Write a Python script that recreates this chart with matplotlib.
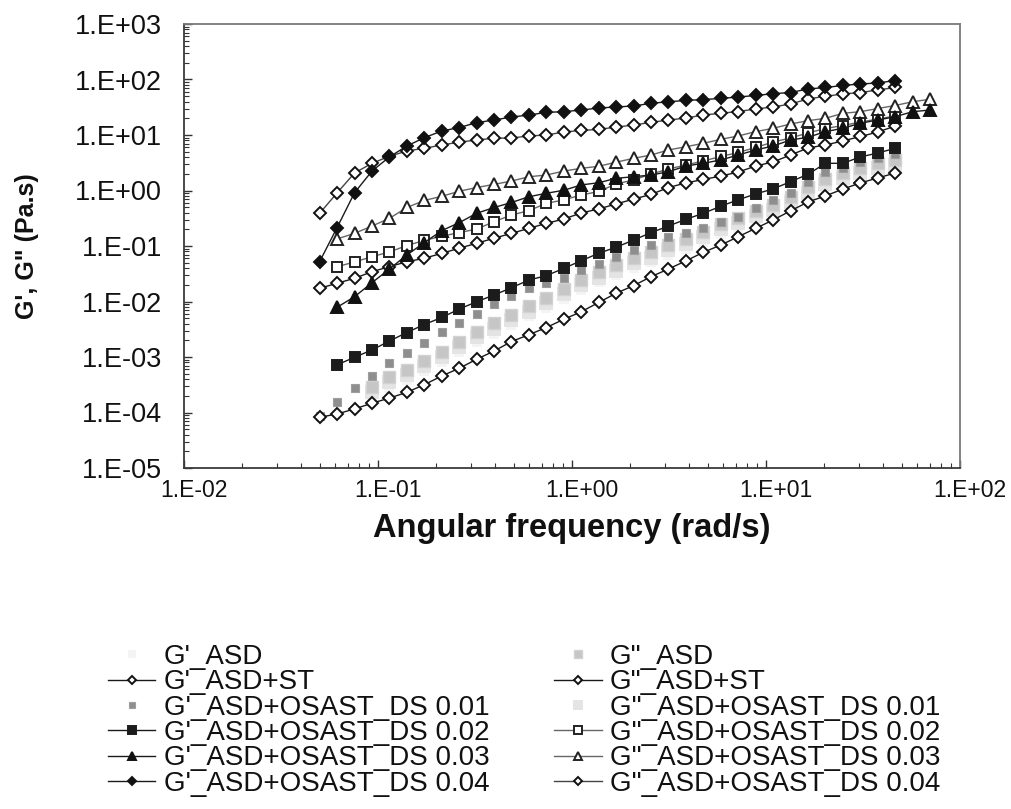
import numpy as np
import matplotlib
matplotlib.use("Agg")
import matplotlib.pyplot as plt
import matplotlib.transforms as mtransforms
from matplotlib.ticker import LogLocator, FuncFormatter, NullFormatter

plt.rcParams['font.family'] = ['Liberation Sans', 'DejaVu Sans']

# Angular frequency sweep (rad/s)
freq = [0.0500, 0.0615, 0.0757, 0.0931, 0.1145, 0.1408, 0.1732, 0.2130, 0.2620,
        0.3223, 0.3964, 0.4876, 0.5997, 0.7377, 0.9073, 1.116, 1.373, 1.688,
        2.077, 2.554, 3.142, 3.864, 4.753, 5.846, 7.191, 8.845, 10.88, 13.38,
        16.46, 20.25, 24.90, 30.63, 37.68, 46.34, 57.00, 70.11]

# Storage modulus G'
g1_asd = [1.9e-4, 2.8e-4, 3.8e-4, 5.6e-4, 8.1e-4, 1.23e-3, 1.83e-3, 2.6e-3, 3.7e-3,
          5.4e-3, 7.5e-3, 1.09e-2, 1.59e-2, 2.2e-2, 2.96e-2, 3.95e-2, 5.1e-2, 6.8e-2,
          8.7e-2, 0.116, 0.162, 0.208, 0.278, 0.356, 0.50, 0.75, 1.05, 1.35, 1.65,
          2.03, 2.31]
g1_st = [8.2e-5, 9.4e-5, 1.16e-4, 1.47e-4, 1.82e-4, 2.31e-4, 3.17e-4, 4.55e-4, 6.25e-4,
         9.1e-4, 1.28e-3, 1.9e-3, 2.52e-3, 3.4e-3, 4.78e-3, 6.55e-3, 9.6e-3, 1.41e-2,
         1.93e-2, 2.8e-2, 3.85e-2, 5.4e-2, 7.7e-2, 0.104, 0.147, 0.208, 0.294, 0.43,
         0.62, 0.80, 1.06, 1.37, 1.68, 2.07]
g1_ds01 = [8.65e-5, 1.57e-4, 2.73e-4, 4.55e-4, 7.69e-4, 1.17e-3, 1.81e-3, 2.79e-3, 4.05e-3,
           5.96e-3, 9.0e-3, 1.26e-2, 1.75e-2, 2.15e-2, 2.65e-2, 3.70e-2, 4.74e-2, 6.34e-2,
           8.47e-2, 0.104, 0.145, 0.171, 0.211, 0.270, 0.333, 0.484, 0.675, 0.90,
           1.42, 2.15, 2.54, 3.27, 3.86, 4.55]
g1_ds02 = [7.2e-4, 9.9e-4, 1.34e-3, 1.94e-3, 2.76e-3, 3.85e-3, 5.15e-3, 7.3e-3, 9.9e-3,
           1.31e-2, 1.77e-2, 2.44e-2, 2.92e-2, 3.96e-2, 5.43e-2, 7.4e-2, 9.5e-2, 0.128,
           0.174, 0.229, 0.303, 0.388, 0.521, 0.682, 0.865, 1.07, 1.44, 1.96, 3.09,
           3.09, 4.02, 4.74, 5.75]
g1_ds03 = [0.00786, 0.0122, 0.0218, 0.0385, 0.0689, 0.115, 0.189, 0.263, 0.388, 0.494,
           0.608, 0.773, 0.891, 1.01, 1.26, 1.38, 1.66, 1.77, 1.90, 2.18, 2.76, 3.09,
           3.55, 4.36, 5.37, 6.34, 8.13, 9.10, 11.5, 13.2, 16.3, 18.6, 21.4, 26.3, 28.2]
g1_ds04 = [0.0521, 0.214, 0.912, 2.24, 4.02, 6.34, 8.93, 11.8, 13.6, 16.7, 18.6, 21.1,
           22.9, 25.6, 26.3, 28.2, 30.6, 32.0, 33.3, 37.2, 39.8, 41.9, 43.6, 45.5, 48.4,
           51.5, 55.5, 58.3, 67.5, 71.8, 78.0, 83.0, 86.5, 95.9]

# Loss modulus G''
g2_asd = [2.92e-4, 4.37e-4, 5.83e-4, 8.57e-4, 1.24e-3, 1.89e-3, 2.82e-3, 4.05e-3, 5.71e-3,
          8.3e-3, 1.16e-2, 1.68e-2, 2.44e-2, 3.40e-2, 4.55e-2, 6.08e-2, 7.80e-2, 0.104,
          0.134, 0.179, 0.249, 0.320, 0.428, 0.548, 0.76, 1.15, 1.61, 2.07, 2.54, 3.13,
          3.55]
g2_st = [0.0173, 0.0213, 0.0262, 0.0344, 0.0424, 0.0521, 0.060, 0.0738, 0.0910, 0.112,
         0.138, 0.169, 0.208, 0.256, 0.306, 0.394, 0.465, 0.572, 0.70, 0.85, 1.13, 1.37,
         1.58, 1.82, 2.15, 2.76, 3.27, 4.36, 5.83, 6.61, 7.80, 9.40, 11.3, 14.5]
g2_ds01 = [2.3e-4, 3.5e-4, 4.7e-4, 6.9e-4, 9.9e-4, 1.5e-3, 2.3e-3, 3.2e-3, 4.6e-3, 6.6e-3,
           9.3e-3, 1.35e-2, 1.95e-2, 2.7e-2, 3.6e-2, 4.9e-2, 6.2e-2, 8.3e-2, 0.107, 0.143,
           0.199, 0.256, 0.342, 0.438, 0.61, 0.92, 1.29, 1.66, 2.03, 2.5, 2.84]
g2_ds02 = [0.0424, 0.0515, 0.0642, 0.078, 0.102, 0.126, 0.150, 0.174, 0.202, 0.274, 0.362,
           0.433, 0.588, 0.675, 0.83, 0.96, 1.31, 1.55, 1.98, 2.44, 2.88, 3.40, 4.10, 4.84,
           5.96, 7.48, 8.83, 10.9, 13.1, 14.8, 17.1, 19.4, 22.0]
g2_ds03 = [0.134, 0.169, 0.229, 0.315, 0.494, 0.661, 0.786, 0.968, 1.13, 1.29, 1.48, 1.77,
           1.90, 2.24, 2.51, 2.73, 3.24, 3.80, 4.36, 5.37, 6.15, 7.08, 8.37, 9.60, 11.5,
           13.2, 15.8, 18.1, 20.0, 24.6, 26.3, 30.0, 34.0, 39.8, 44.0]
g2_ds04 = [0.388, 0.902, 2.07, 3.09, 4.13, 5.15, 5.76, 6.61, 7.42, 8.13, 8.73, 8.84, 9.60,
           10.0, 11.3, 12.1, 12.6, 13.9, 15.1, 16.9, 18.6, 20.2, 22.9, 24.6, 26.5, 29.4,
           32.0, 36.2, 44.6, 49.8, 54.8, 58.3, 64.7, 71.8]

W, H = 1012, 809
fig = plt.figure(figsize=(W / 100, H / 100), dpi=100)
fig.patch.set_facecolor('white')
ax = fig.add_axes([184 / W, 1 - 468 / H, (960 - 184) / W, (468 - 24) / H])
ax.set_xscale('log')
ax.set_yscale('log')
ax.set_xlim(1e-2, 1e2)
ax.set_ylim(1e-5, 1e3)

f = np.array(freq)


def series(y, start, label, marker, ms, mfc, mec, ls='-', lc='#1a1a1a', lw=1.0,
           mew=1.4, z=3):
    xs = f[start:start + len(y)]
    line, = ax.plot(xs, y, linestyle=ls, color=lc, lw=lw, marker=marker, ms=ms,
                    mfc=mfc, mec=mec, mew=mew, label=label, zorder=z)
    return line


h_g1_asd = series(g1_asd, 3, "G'_ASD", 's', 6, '#f4f4f4', '#f4f4f4', ls='none', z=1)
h_g2_01 = series(g2_ds01, 3, 'G"_ASD+OSAST_DS 0.01', 's', 8, '#e4e4e4', '#e4e4e4',
                 ls='none', z=1)
h_g2_asd = series(g2_asd, 3, 'G"_ASD', 's', 8.5, '#c6c6c6', '#d2d2d2', ls='none',
                  mew=1.0, z=2)
h_g1_01 = series(g1_ds01, 0, "G'_ASD+OSAST_DS 0.01", 's', 5.5, '#8e8e8e', '#9e9e9e',
                 ls='none', mew=0.8, z=2)
h_g1_st = series(g1_st, 0, "G'_ASD+ST", 'D', 6, 'white', '#111111', z=3)
h_g1_02 = series(g1_ds02, 1, "G'_ASD+OSAST_DS 0.02", 's', 7, '#1c1c1c', '#1c1c1c', z=4)
h_g2_st = series(g2_st, 0, 'G"_ASD+ST', 'D', 6, 'white', '#111111', z=3)
h_g2_02 = series(g2_ds02, 1, 'G"_ASD+OSAST_DS 0.02', 's', 7, 'white', '#222222',
                 lc='#666666', z=3)
h_g1_03 = series(g1_ds03, 1, "G'_ASD+OSAST_DS 0.03", '^', 8, '#111111', '#111111', z=4)
h_g2_03 = series(g2_ds03, 1, 'G"_ASD+OSAST_DS 0.03', '^', 8, 'white', '#222222',
                 lc='#666666', z=3)
h_g2_04 = series(g2_ds04, 0, 'G"_ASD+OSAST_DS 0.04', 'D', 6, 'white', '#111111',
                 lc='#444444', z=3)
h_g1_04 = series(g1_ds04, 0, "G'_ASD+OSAST_DS 0.04", 'D', 6, '#111111', '#111111', z=4)

# Axes frame and ticks
for sp in ax.spines.values():
    sp.set_color('#3a3a3a')
    sp.set_linewidth(1.3)
ax.spines['top'].set_color('#7a7a7a')
ax.spines['right'].set_color('#7a7a7a')

fmt = FuncFormatter(lambda v, p: "1.E{:+03d}".format(int(round(np.log10(v)))))
for axis in (ax.xaxis, ax.yaxis):
    axis.set_major_locator(LogLocator(base=10, numticks=20))
    axis.set_minor_locator(LogLocator(base=10, subs=np.arange(2, 10), numticks=20))
    axis.set_major_formatter(fmt)
    axis.set_minor_formatter(NullFormatter())
ax.tick_params(which='both', direction='in', top=False, right=False, color='#333333')
ax.tick_params(which='major', length=6, width=1.0)
ax.tick_params(which='minor', length=3.5, width=0.8)
ax.tick_params(axis='y', which='major', labelsize=19.5, pad=16, labelcolor='#111111')
ax.tick_params(axis='x', which='major', labelsize=16.5, pad=8, labelcolor='#111111')

ax.set_xlabel('Angular frequency (rad/s)', fontsize=23.5, fontweight='bold',
              color='#111111')
ax.xaxis.set_label_coords(0.5, -0.102)
ax.set_ylabel('G\', G" (Pa.s)', fontsize=18, fontweight='bold', color='#111111')
ax.yaxis.set_label_coords(-0.187, 0.5)

handles = [h_g1_asd, h_g1_st, h_g1_01, h_g1_02, h_g1_03, h_g1_04,
           h_g2_asd, h_g2_st, h_g2_01, h_g2_02, h_g2_03, h_g2_04]
labels = [h.get_label() for h in handles]
leg = fig.legend(handles, labels, ncol=2, loc='upper left',
                 bbox_to_anchor=(108 / W, 1 - 644 / H), frameon=False, fontsize=20,
                 handlelength=1.7, handletextpad=0.3, columnspacing=2.35,
                 labelspacing=-0.025, borderpad=0, borderaxespad=0, markerscale=0.75)
for t in leg.get_texts():
    t.set_color('#111111')

fig.canvas.draw()
shift = mtransforms.ScaledTranslation(10 / 100, 0, fig.dpi_scale_trans)
for tick in ax.xaxis.get_major_ticks():
    tick.label1.set_transform(tick.label1.get_transform() + shift)

fig.savefig('out.png', dpi=100, facecolor='white')
